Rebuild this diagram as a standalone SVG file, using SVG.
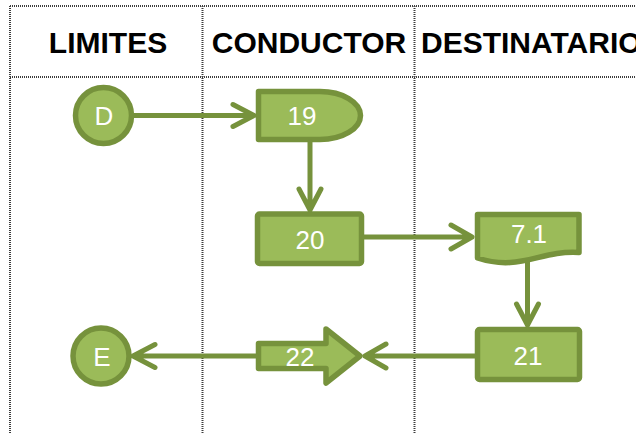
<svg xmlns="http://www.w3.org/2000/svg" width="636" height="434" viewBox="0 0 636 434">
  <style>
    .grid { stroke: #3c3c3c; stroke-width: 2; stroke-dasharray: 1 1; fill: none; }
    .head { font-family: "Liberation Sans", Arial, sans-serif; font-weight: bold; font-size: 30px; fill: #000; }
    .shape { fill: #9BBB59; stroke: #76923C; stroke-width: 5.5; stroke-linejoin: round; }
    .lbl { font-family: "Liberation Sans", Arial, sans-serif; font-size: 26px; fill: #fff; text-anchor: middle; }
    .conn { stroke: #76923C; stroke-width: 5; fill: none; stroke-linecap: round; stroke-linejoin: round; }
  </style>

  <!-- swimlane grid -->
  <g id="lanes">
    <line class="grid" x1="10" y1="6" x2="636" y2="6"/>
    <line class="grid" x1="10" y1="77" x2="636" y2="77"/>
    <line class="grid" x1="10" y1="6" x2="10" y2="434"/>
    <line class="grid" x1="202.5" y1="6" x2="202.5" y2="434"/>
    <line class="grid" x1="414.5" y1="6" x2="414.5" y2="434"/>
    <text class="head" x="108" y="53" text-anchor="middle">LIMITES</text>
    <text class="head" x="309" y="53" text-anchor="middle">CONDUCTOR</text>
    <text class="head" x="421" y="53">DESTINATARIO</text>
  </g>

  <!-- nodes -->
  <g id="node-D">
    <circle class="shape" cx="103.5" cy="115.5" r="28" stroke-width="6"/>
    <text class="lbl" x="104" y="124.5">D</text>
  </g>
  <g id="node-19">
    <path class="shape" d="M258.5,91.5 H320 A40.5,24 0 0 1 320,139.5 H258.5 Z"/>
    <text class="lbl" x="302" y="125">19</text>
  </g>
  <g id="node-20">
    <rect class="shape" x="257.5" y="214" width="104" height="49.5" rx="2"/>
    <text class="lbl" x="310" y="249">20</text>
  </g>
  <g id="node-7.1">
    <path class="shape" d="M477.5,214.5 H579 V252.5 C540,250 520,272 477.5,258 Z"/>
    <text class="lbl" x="529" y="243">7.1</text>
  </g>
  <g id="node-21">
    <rect class="shape" x="477.5" y="329.5" width="102" height="50" rx="2"/>
    <text class="lbl" x="528" y="365">21</text>
  </g>
  <g id="node-22">
    <path class="shape" d="M258.5,343.5 H326 V329 L360,356 L326,383 V368.5 H258.5 Z" stroke-linejoin="miter"/>
    <text class="lbl" x="300" y="366">22</text>
  </g>
  <g id="node-E">
    <circle class="shape" cx="101" cy="356" r="28" stroke-width="6"/>
    <text class="lbl" x="102" y="365.5">E</text>
  </g>

  <!-- connectors -->
  <g id="connectors">
    <path class="conn" d="M132,115.5 H254 M233,104.5 L254,115.5 L233,126.5"/>
    <path class="conn" d="M310,142 V210 M299,189 L310,210 L321,189"/>
    <path class="conn" d="M364,237 H472 M451,225 L472,237 L451,249"/>
    <path class="conn" d="M527.5,262 V325 M516.5,304 L527.5,325 L538.5,304"/>
    <path class="conn" d="M475,356 H365 M386,344 L365,356 L386,368"/>
    <path class="conn" d="M256,356 H133 M155,344.5 L133,356 L155,367.5"/>
  </g>
</svg>
